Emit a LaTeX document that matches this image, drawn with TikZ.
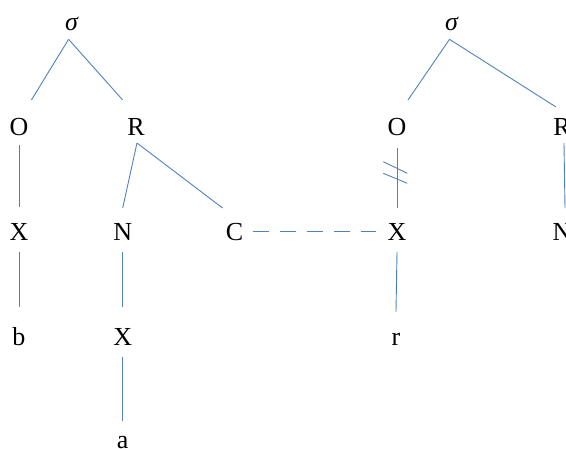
\documentclass[tikz,border=0pt]{standalone}
\usepackage{fontspec}
\setmainfont{Liberation Serif}
\definecolor{lnblue}{RGB}{79,129,189}
\begin{document}
\begin{tikzpicture}[x=1pt,y=-1pt,
  lbl/.style={inner sep=0pt, anchor=base, font=\fontsize{26}{30}\selectfont},
  ln/.style={draw=lnblue, line width=0.9pt},
  assoc/.style={ln, dash pattern=on 16pt off 11pt}]
\useasboundingbox (0,0) rectangle (566,448);
% left syllable
\node[lbl] (sigL) at (72,30) {\textit{σ}};
\node[lbl] (OL) at (19,135) {O};
\node[lbl] (RL) at (136,135) {R};
\node[lbl] (XL1) at (19,240) {X};
\node[lbl] (NL) at (122.7,240) {N};
\node[lbl] (CL) at (234.6,240) {C};
\node[lbl] (bL) at (19,345) {b};
\node[lbl] (XL2) at (122.7,345) {X};
\node[lbl] (aL) at (122.7,448) {a};
% right syllable
\node[lbl] (sigR) at (452,30) {\textit{σ}};
\node[lbl] (OR) at (397,135) {O};
\node[lbl] (RR) at (562,135) {R};
\node[lbl] (XR) at (397,240) {X};
\node[lbl] (NR) at (562,240) {N};
\node[lbl] (rR) at (396,345) {r};
% connectors left
\draw[ln] ([shift={(-3.4,9.3)}]sigL.base) -- ([shift={(12.4,-35)}]OL.base);
\draw[ln] ([shift={(-3.4,9.3)}]sigL.base) -- ([shift={(-13.3,-35)}]RL.base);
\draw[ln] ([shift={(0,10)}]OL.base) -- ([shift={(0,-33)}]XL1.base);
\draw[ln] ([shift={(1,8)}]RL.base) -- ([shift={(0,-32)}]NL.base);
\draw[ln] ([shift={(1,8)}]RL.base) -- ([shift={(-12,-32)}]CL.base);
\draw[ln] ([shift={(0,12)}]XL1.base) -- ([shift={(0,-38)}]bL.base);
\draw[ln] ([shift={(0,12)}]NL.base) -- ([shift={(0,-38)}]XL2.base);
\draw[ln] ([shift={(0,12)}]XL2.base) -- ([shift={(0,-27)}]aL.base);
% association line
\draw[assoc] ([shift={(18,-9)}]CL.base) -- ([shift={(-21,-9)}]XR.base);
% connectors right
\draw[ln] ([shift={(-2.5,9.3)}]sigR.base) -- ([shift={(11,-35)}]OR.base);
\draw[ln] ([shift={(-2.5,9.3)}]sigR.base) -- ([shift={(-6,-28)}]RR.base);
\draw[ln] ([shift={(0,13)}]OR.base) -- ([shift={(0,-32)}]XR.base);
\draw[ln] ([shift={(2,8)}]RR.base) -- ([shift={(3,-32)}]NR.base);
\draw[ln] ([shift={(0,12)}]XR.base) -- ([shift={(0,-33)}]rR.base);
% delinking marks
\draw[ln] ([shift={(-13.7,26.7)}]OR.base) -- ([shift={(10.3,38.3)}]OR.base);
\draw[ln] ([shift={(-13.7,38.3)}]OR.base) -- ([shift={(10.3,48.3)}]OR.base);
\end{tikzpicture}
\end{document}
